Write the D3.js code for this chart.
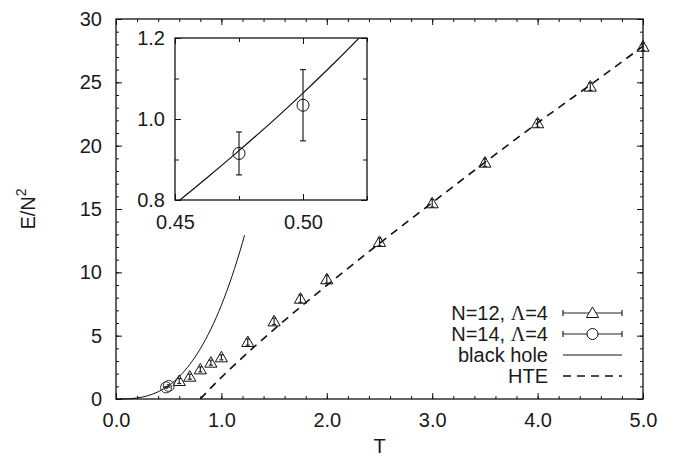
<!DOCTYPE html>
<html>
<head>
<meta charset="utf-8">
<script src="https://cdn.jsdelivr.net/npm/d3@7/dist/d3.min.js"></script>
<style>
body { margin: 0; background: #fff; }
text { font-family: "Liberation Sans", Arial, sans-serif; fill: #1a1a1a; }
</style>
</head>
<body>
<div id="chart"></div>
<script>
// N=12, Lambda=4 (triangles)
const tN12 = [0.6, 0.7, 0.8, 0.9, 1.0, 1.25, 1.5, 1.75, 2.0, 2.5, 3.0, 3.5, 4.0, 4.5, 5.0];
const eN12 = [1.42, 1.76, 2.34, 2.87, 3.29, 4.5, 6.13, 7.92, 9.45, 12.4, 15.45, 18.66, 21.77, 24.66, 27.81];
const errN12 = [0.2, 0.2, 0.2, 0.2, 0.2, 0.25, 0.25, 0.3, 0.3, 0.3, 0.3, 0.3, 0.3, 0.3, 0.3];

// N=14, Lambda=4 (circles)
const tN14 = [0.475, 0.5];
const eN14 = [0.915, 1.034];
const errN14 = [0.053, 0.088];

// black hole curve (main panel)
const tBH = [0.0, 0.1, 0.2, 0.3, 0.4, 0.5, 0.6, 0.7, 0.8, 0.9, 1.0, 1.1, 1.2, 1.22];
const eBH = [0.0, 0.012, 0.082, 0.255, 0.570, 1.064, 1.772, 2.730, 3.967, 5.517, 7.41, 9.677, 12.35, 12.93];

// black hole curve (inset)
const tBHInset = [0.45, 0.4625, 0.475, 0.4875, 0.5, 0.5125, 0.525];
const eBHInset = [0.790, 0.855, 0.922, 0.991, 1.064, 1.140, 1.220];

// high temperature expansion
const tHTE = [0.8, 0.9, 1.0, 1.25, 1.5, 1.75, 2.0, 2.5, 3.0, 3.5, 4.0, 4.5, 5.0];
const eHTE = [0.0, 0.88, 1.71, 3.66, 5.50, 7.26, 8.97, 12.29, 15.5, 18.68, 21.8, 24.8, 27.85];

// tick labels
const xTicks = [0, 1, 2, 3, 4, 5];
const yTicks = [0, 5, 10, 15, 20, 25, 30];
const insetXTicks = [0.45, 0.50];
const insetYTicks = [0.8, 1.0, 1.2];

const legendLabels = ["N=12, ", "N=14, ", "black hole", "HTE"];

const W = 677, H = 460;
const FONT = 20;

const svg = d3.select("#chart")
    .append("svg")
    .attr("width", W)
    .attr("height", H);

const x = d3.scaleLinear().domain([0, 5]).range([116, 643]);
const y = d3.scaleLinear().domain([0, 30]).range([399, 19]);

// draw inward ticks on all four sides of a box
function drawFrame(g, xs, ys, o) {
    const [x0, x1] = xs.range();
    const [y0, y1] = ys.range();
    const strip = s => s.select(".domain").remove();

    const bottom = g.append("g").attr("transform", `translate(0,${y0})`);
    bottom.append("g").call(d3.axisBottom(xs).tickValues(o.xMinor).tickSize(-o.minor).tickFormat("")).call(strip);
    bottom.append("g").call(d3.axisBottom(xs).tickValues(o.xMajor).tickSize(-o.major)
        .tickPadding(o.xPad + o.major).tickFormat(o.xFmt)).call(strip);

    const top = g.append("g").attr("transform", `translate(0,${y1})`);
    top.append("g").call(d3.axisTop(xs).tickValues(o.xMinor).tickSize(-o.minor).tickFormat("")).call(strip);
    top.append("g").call(d3.axisTop(xs).tickValues(o.xMajor).tickSize(-o.major).tickFormat("")).call(strip);

    const left = g.append("g").attr("transform", `translate(${x0},0)`);
    left.append("g").call(d3.axisLeft(ys).tickValues(o.yMinor).tickSize(-o.minor).tickFormat("")).call(strip);
    left.append("g").call(d3.axisLeft(ys).tickValues(o.yMajor).tickSize(-o.major)
        .tickPadding(o.yPad + o.major).tickFormat(o.yFmt)).call(strip);

    const right = g.append("g").attr("transform", `translate(${x1},0)`);
    right.append("g").call(d3.axisRight(ys).tickValues(o.yMinor).tickSize(-o.minor).tickFormat("")).call(strip);
    right.append("g").call(d3.axisRight(ys).tickValues(o.yMajor).tickSize(-o.major).tickFormat("")).call(strip);

    g.selectAll(".tick line").attr("stroke", "#111").attr("stroke-width", 1);
    g.selectAll(".tick text")
        .style("font-family", "'Liberation Sans', Arial, sans-serif")
        .style("font-size", FONT + "px")
        .attr("fill", "#1a1a1a");

    g.append("rect")
        .attr("x", x0).attr("y", y1)
        .attr("width", x1 - x0).attr("height", y0 - y1)
        .attr("fill", "none")
        .attr("stroke", "#111")
        .attr("stroke-width", 1.3);
}

const triangle = d3.symbol().type(d3.symbolTriangle).size(64);

function errorBars(g, xs, ys, ts, es, errs, cap) {
    const eb = g.append("g").attr("stroke", "#222").attr("stroke-width", 1.2);
    ts.forEach((t, i) => {
        const cx = xs(t);
        eb.append("line").attr("x1", cx).attr("x2", cx)
            .attr("y1", ys(es[i] - errs[i])).attr("y2", ys(es[i] + errs[i]));
        [es[i] - errs[i], es[i] + errs[i]].forEach(v => {
            eb.append("line").attr("x1", cx - cap).attr("x2", cx + cap)
                .attr("y1", ys(v)).attr("y2", ys(v));
        });
    });
}

// ---- main panel ----
const main = svg.append("g");

drawFrame(main, x, y, {
    xMajor: xTicks, xMinor: x.ticks(25),
    yMajor: yTicks, yMinor: y.ticks(30),
    major: 6, minor: 3, xPad: 8, yPad: 8,
    xFmt: d3.format(".1f"), yFmt: d3.format("d")
});

const line = d3.line().curve(d3.curveMonotoneX);

main.append("path")
    .attr("d", line(tBH.map((t, i) => [x(t), y(eBH[i])])))
    .attr("fill", "none").attr("stroke", "#111").attr("stroke-width", 1);

main.append("path")
    .attr("d", line(tHTE.map((t, i) => [x(t), y(eHTE[i])])))
    .attr("fill", "none").attr("stroke", "#111").attr("stroke-width", 1.6)
    .attr("stroke-dasharray", "8,6");

errorBars(main, x, y, tN12, eN12, errN12, 2);
main.append("g").selectAll("path")
    .data(tN12)
    .join("path")
    .attr("transform", (t, i) => `translate(${x(t)},${y(eN12[i]) + 1})`)
    .attr("d", triangle)
    .attr("fill", "none").attr("stroke", "#111").attr("stroke-width", 1);

errorBars(main, x, y, tN14, eN14, errN14, 2);
main.append("g").selectAll("circle")
    .data(tN14)
    .join("circle")
    .attr("cx", t => x(t))
    .attr("cy", (t, i) => y(eN14[i]))
    .attr("r", 5.5)
    .attr("fill", "none").attr("stroke", "#333").attr("stroke-width", 1);

// axis titles
svg.append("text")
    .attr("x", (x.range()[0] + x.range()[1]) / 2)
    .attr("y", 453)
    .attr("text-anchor", "middle")
    .style("font-size", FONT + "px")
    .text("T");

const yLab = svg.append("text")
    .attr("transform", `translate(35,${(y.range()[0] + y.range()[1]) / 2}) rotate(-90)`)
    .attr("text-anchor", "middle")
    .style("font-size", FONT + "px");
yLab.append("tspan").text("E/N");
yLab.append("tspan").attr("dy", -9).style("font-size", "14px").text("2");

// ---- legend ----
const legend = svg.append("g");
const rowY = [313, 334, 355, 376];
const sx0 = 563, sx1 = 622, sxm = (sx0 + sx1) / 2;

legendLabels.forEach((lab, i) => {
    const t = legend.append("text")
        .attr("x", 548).attr("y", rowY[i])
        .attr("dy", "0.35em")
        .attr("text-anchor", "end")
        .style("font-size", FONT + "px");
    t.append("tspan").text(lab);
    if (i < 2) {
        t.append("tspan").style("font-family", "'Liberation Serif', serif").text("Λ");
        t.append("tspan").text("=4");
    }
});

[0, 1].forEach(i => {
    const ly = rowY[i];
    legend.append("line").attr("x1", sx0).attr("x2", sx1).attr("y1", ly).attr("y2", ly)
        .attr("stroke", "#222").attr("stroke-width", 1.2);
    [sx0, sx1].forEach(cx => legend.append("line")
        .attr("x1", cx).attr("x2", cx).attr("y1", ly - 3).attr("y2", ly + 3)
        .attr("stroke", "#222").attr("stroke-width", 1.2));
});
legend.append("path")
    .attr("transform", `translate(${sxm},${rowY[0] + 1})`)
    .attr("d", triangle)
    .attr("fill", "#fff").attr("stroke", "#111").attr("stroke-width", 1);
legend.append("circle")
    .attr("cx", sxm).attr("cy", rowY[1]).attr("r", 5.5)
    .attr("fill", "#fff").attr("stroke", "#111").attr("stroke-width", 1);
legend.append("line").attr("x1", sx0).attr("x2", sx1).attr("y1", rowY[2]).attr("y2", rowY[2])
    .attr("stroke", "#111").attr("stroke-width", 1);
legend.append("line").attr("x1", sx0).attr("x2", sx1).attr("y1", rowY[3]).attr("y2", rowY[3])
    .attr("stroke", "#111").attr("stroke-width", 1.6).attr("stroke-dasharray", "8,6");

// ---- inset ----
const ix = d3.scaleLinear().domain([0.45, 0.525]).range([175, 367]);
const iy = d3.scaleLinear().domain([0.8, 1.2]).range([200, 38]);

const inset = svg.append("g");
inset.append("rect")
    .attr("x", 175).attr("y", 38)
    .attr("width", ix.range()[1] - ix.range()[0])
    .attr("height", iy.range()[0] - iy.range()[1])
    .attr("fill", "#fff");

inset.append("clipPath").attr("id", "insetClip")
    .append("rect")
    .attr("x", ix.range()[0]).attr("y", iy.range()[1])
    .attr("width", ix.range()[1] - ix.range()[0])
    .attr("height", iy.range()[0] - iy.range()[1]);

inset.append("path")
    .attr("clip-path", "url(#insetClip)")
    .attr("d", line(tBHInset.map((t, i) => [ix(t), iy(eBHInset[i])])))
    .attr("fill", "none").attr("stroke", "#111").attr("stroke-width", 1.2);

errorBars(inset, ix, iy, tN14, eN14, errN14, 3);
inset.append("g").selectAll("circle")
    .data(tN14)
    .join("circle")
    .attr("cx", t => ix(t))
    .attr("cy", (t, i) => iy(eN14[i]))
    .attr("r", 6)
    .attr("fill", "none").attr("stroke", "#111").attr("stroke-width", 1);

drawFrame(inset, ix, iy, {
    xMajor: insetXTicks, xMinor: [0.475, 0.525],
    yMajor: insetYTicks, yMinor: [0.9, 1.1],
    major: 6, minor: 4, xPad: 9, yPad: 4,
    xFmt: d3.format(".2f"), yFmt: d3.format(".1f")
});
</script>
</body>
</html>
